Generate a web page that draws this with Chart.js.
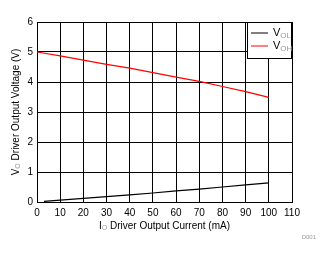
<!DOCTYPE html>
<html>
<head>
<meta charset="utf-8">
<script src="https://cdn.jsdelivr.net/npm/chart.js@4/dist/chart.umd.min.js"></script>
<style>
	html, body { margin: 0; padding: 0; background: #fff; }
	#wrap { width: 325px; height: 254px; position: relative; }
</style>
</head>
<body>
<div id="wrap"><canvas id="chart"></canvas></div>
<script>
// values
const currentVol = [3, 10, 20, 30, 40, 50, 60, 70, 80, 90, 100];
const vol = [0.02, 0.06, 0.12, 0.18, 0.24, 0.30, 0.37, 0.43, 0.50, 0.57, 0.64];
const currentVoh = [0, 10, 20, 30, 40, 50, 60, 70, 80, 90, 100];
const voh = [5.0, 4.87, 4.73, 4.59, 4.46, 4.31, 4.16, 4.02, 3.85, 3.68, 3.49];
const seriesNames = ['OL', 'OH']; // subscripts of V
const seriesColors = ['#000000', '#ff0000'];

const FONT = '"Liberation Sans", Arial, sans-serif';

function toPoints(xs, ys) {
	return xs.map((x, i) => ({ x: x, y: ys[i] }));
}

// draws "main" + small grey subscript + rest, starting at x
function drawSub(ctx, x, y, main, sub, rest, size) {
	ctx.font = size + 'px ' + FONT;
	ctx.fillStyle = '#000';
	ctx.fillText(main, x, y);
	let w = ctx.measureText(main).width;
	ctx.font = Math.round(size * 0.7) + 'px ' + FONT;
	ctx.fillStyle = '#999';
	ctx.fillText(sub, x + w, y + size * 0.25);
	w += ctx.measureText(sub).width;
	if (rest) {
		ctx.font = size + 'px ' + FONT;
		ctx.fillStyle = '#000';
		ctx.fillText(rest, x + w, y);
	}
}

function subWidth(ctx, main, sub, rest, size) {
	ctx.font = size + 'px ' + FONT;
	let w = ctx.measureText(main).width + ctx.measureText(rest).width;
	ctx.font = Math.round(size * 0.7) + 'px ' + FONT;
	return w + ctx.measureText(sub).width;
}

const extras = {
	id: 'extras',
	afterDraw(chart) {
		const ctx = chart.ctx;
		const a = chart.chartArea;
		ctx.save();
		ctx.textBaseline = 'middle';
		ctx.textAlign = 'left';

		// x title
		let w = subWidth(ctx, 'I', 'O', ' Driver Output Current (mA)', 10);
		drawSub(ctx, (a.left + a.right) / 2 - w / 2, 226, 'I', 'O', ' Driver Output Current (mA)', 10);

		// y title
		ctx.save();
		ctx.translate(16, (a.top + a.bottom) / 2);
		ctx.rotate(-Math.PI / 2);
		w = subWidth(ctx, 'V', 'O', ' Driver Output Voltage (V)', 10);
		drawSub(ctx, -w / 2, 0, 'V', 'O', ' Driver Output Voltage (V)', 10);
		ctx.restore();

		// legend box
		const bx = 247, by = a.top, bw = a.right - bx, bh = 36;
		ctx.fillStyle = '#fff';
		ctx.fillRect(bx, by, bw, bh);
		ctx.strokeStyle = '#000';
		ctx.lineWidth = 1;
		ctx.strokeRect(bx + 0.5, by + 0.5, bw - 1, bh);
		seriesNames.forEach((s, i) => {
			const ly = by + 11 + i * 13;
			ctx.strokeStyle = seriesColors[i];
			ctx.lineWidth = 1;
			ctx.beginPath();
			ctx.moveTo(251, ly);
			ctx.lineTo(268, ly);
			ctx.stroke();
			drawSub(ctx, 273, ly, 'V', s, '', 11);
		});

		// figure id
		ctx.font = '6px ' + FONT;
		ctx.fillStyle = '#999';
		ctx.textAlign = 'right';
		ctx.fillText('D001', 316, 237);
		ctx.restore();
	}
};

new Chart(document.getElementById('chart'), {
	type: 'scatter',
	data: {
		datasets: [
			{
				label: 'VOL',
				data: toPoints(currentVol, vol),
				showLine: true,
				borderColor: seriesColors[0],
				borderWidth: 1.2,
				pointRadius: 0,
			},
			{
				label: 'VOH',
				data: toPoints(currentVoh, voh),
				showLine: true,
				borderColor: seriesColors[1],
				borderWidth: 1.2,
				pointRadius: 0,
			},
		],
	},
	options: {
		responsive: true,
		maintainAspectRatio: false,
		animation: false,
		layout: { padding: { left: 0, top: 22, right: 33, bottom: 0 } },
		plugins: {
			legend: { display: false },
			tooltip: { enabled: false },
		},
		scales: {
			x: {
				type: 'linear',
				min: 0,
				max: 110,
				afterFit(scale) { scale.height = 52; },
				ticks: {
					stepSize: 10,
					color: '#000',
					padding: 5,
					maxRotation: 0,
					font: { family: FONT, size: 10 },
				},
				grid: { color: '#000', lineWidth: 1, drawTicks: false },
				border: { color: '#000' },
			},
			y: {
				min: 0,
				max: 6,
				afterFit(scale) { scale.width = 37; },
				ticks: {
					stepSize: 1,
					color: '#000',
					padding: 4,
					font: { family: FONT, size: 10 },
				},
				grid: { color: '#000', lineWidth: 1, drawTicks: false },
				border: { color: '#000' },
			},
		},
	},
	plugins: [extras],
});
</script>
</body>
</html>
